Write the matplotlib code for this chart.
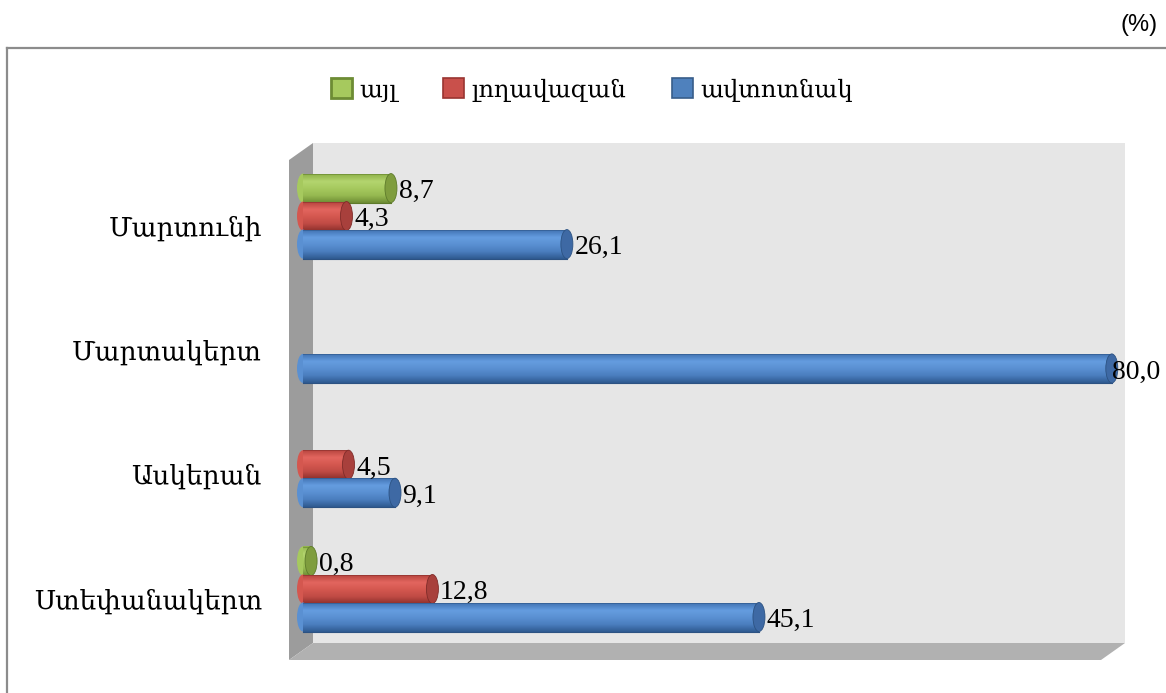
import numpy as np
import matplotlib.pyplot as plt
from matplotlib.patches import Polygon, Ellipse, Rectangle
from matplotlib.colors import LinearSegmentedColormap
from matplotlib.lines import Line2D

plt.rcParams['font.family'] = ['Liberation Serif', 'DejaVu Serif', 'DejaVu Sans']

# data (bottom to top on the chart)
towns = ['Ստեփանակերտ', 'Ասկերան', 'Մարտակերտ', 'Մարտունի']
garage = [45.1, 9.1, 80.0, 26.1]   # ավտոտնակ
pool = [12.8, 4.5, 0.0, 4.3]       # լողավազան
other = [0.8, 0.0, 0.0, 8.7]       # այլ
names = ['այլ', 'լողավազան', 'ավտոտնակ']

# style per series: body gradient (top -> bottom), cap face, cap edge
styles = {
    'blue': (['#4274b4', '#659de0', '#5a90d2', '#4a7dbe', '#2f5a90'], '#3e69a4', '#2c5282'),
    'red': (['#b8453f', '#e3665f', '#d4574f', '#c04b45', '#8e302c'], '#a8403c', '#7f2c29'),
    'green': (['#8fb24a', '#b4d56f', '#a6c95e', '#96b950', '#6d8c34'], '#7f9d3e', '#5d7a2a'),
}

fig = plt.figure(figsize=(11.66, 6.93), dpi=100)
W, H = 1166, 693
# axes spans the 3d box: x 289..1125 px, y 143..660 px
ax = fig.add_axes([289 / W, (H - 660) / H, 836 / W, 517 / H])

ppu_x = 10.11    # px per unit on x
x0_px = 303      # px of zero
ppu_y = 124.3
xlim = ((289 - x0_px) / ppu_x, (1125 - x0_px) / ppu_x)
ylim = ((589 - 660) / ppu_y, (589 - 143) / ppu_y)

# walls
dx, dy = 24 / 836, 17 / 517
ax.add_patch(Rectangle((dx, dy), 1 - dx, 1 - dy, transform=ax.transAxes,
                       facecolor='#e6e6e6', edgecolor='none', zorder=0))
ax.add_patch(Polygon([(0, 0), (dx, dy), (dx, 1), (0, 1 - dy)], transform=ax.transAxes,
                     facecolor='#9c9c9c', edgecolor='none', zorder=0))
ax.add_patch(Polygon([(0, 0), (dx, dy), (1, dy), (1 - dx, 0)], transform=ax.transAxes,
                     facecolor='#b1b1b1', edgecolor='none', zorder=0))

bh = 29 / ppu_y
off = 28 / ppu_y
cap_w = 12 / ppu_x
pos = np.arange(len(towns))
grad = np.linspace(0, 1, 64).reshape(-1, 1)


def cylinders(vals, ypos, style, z):
    body, capc, edgec = styles[style]
    cmap = LinearSegmentedColormap.from_list(style, body)
    for v, y in zip(vals, ypos):
        if v <= 0:
            continue
        ax.barh(y, v, height=bh, color=body[2], edgecolor='none', zorder=z)
        ax.add_patch(Ellipse((0, y), cap_w, bh, facecolor=body[2], edgecolor='none', zorder=z))
        ax.imshow(grad, cmap=cmap, aspect='auto', origin='upper', zorder=z + 0.1,
                  extent=[0, v, y - bh / 2, y + bh / 2], interpolation='bilinear')
        ax.plot([0, v], [y + bh / 2, y + bh / 2], color=edgec, lw=0.6, alpha=0.6, zorder=z + 0.2)
        ax.plot([0, v], [y - bh / 2, y - bh / 2], color=edgec, lw=0.8, zorder=z + 0.2)
        ax.add_patch(Ellipse((v, y), cap_w, bh, facecolor=capc, edgecolor=edgec,
                             lw=0.6, zorder=z + 0.3))
        lx = v + 0.75 if v < 75 else v
        ax.text(lx, y - 0.03, f'{v:.1f}'.replace('.', ','), ha='left', va='center',
                fontsize=20, color='black', zorder=10)


# draw from top to bottom so lower bars overlap upper ones
cylinders(other, pos + off, 'green', 2)
cylinders(pool, pos, 'red', 3)
cylinders(garage, pos - off, 'blue', 4)

ax.set_xlim(xlim)
ax.set_ylim(ylim)
for s in ax.spines.values():
    s.set_visible(False)
ax.set_xticks([])
ax.set_yticks(pos - 0.075, towns)
ax.tick_params(axis='y', length=0, pad=19.5, labelsize=19)

# legend
handles = [Rectangle((0, 0), 1, 1, facecolor='#a6c95e', edgecolor='#6d8c34', lw=2),
           Rectangle((0, 0), 1, 1, facecolor='#c9504b', edgecolor='#9a3531', lw=1.2),
           Rectangle((0, 0), 1, 1, facecolor='#4f81bd', edgecolor='#385d8a', lw=1.2)]
fig.legend(handles, names, loc='center', bbox_to_anchor=(592 / W, 1 - 90 / H), ncol=3,
           frameon=False, fontsize=17.5, handlelength=0.85, handleheight=0.85,
           handletextpad=0.3, columnspacing=1.9)

# outer frame (top and left edges)
fig.add_artist(Line2D([6.5 / W, 1], [1 - 47.5 / H, 1 - 47.5 / H], color='#8c8c8c', lw=1.6))
fig.add_artist(Line2D([6.5 / W, 6.5 / W], [0, 1 - 47.5 / H], color='#8c8c8c', lw=1.6))

fig.text(1158 / W, 1 - 25 / H, '(%)', ha='right', va='center', fontsize=17,
         family=['Liberation Sans', 'DejaVu Sans'])

fig.savefig('out.png', dpi=100)
